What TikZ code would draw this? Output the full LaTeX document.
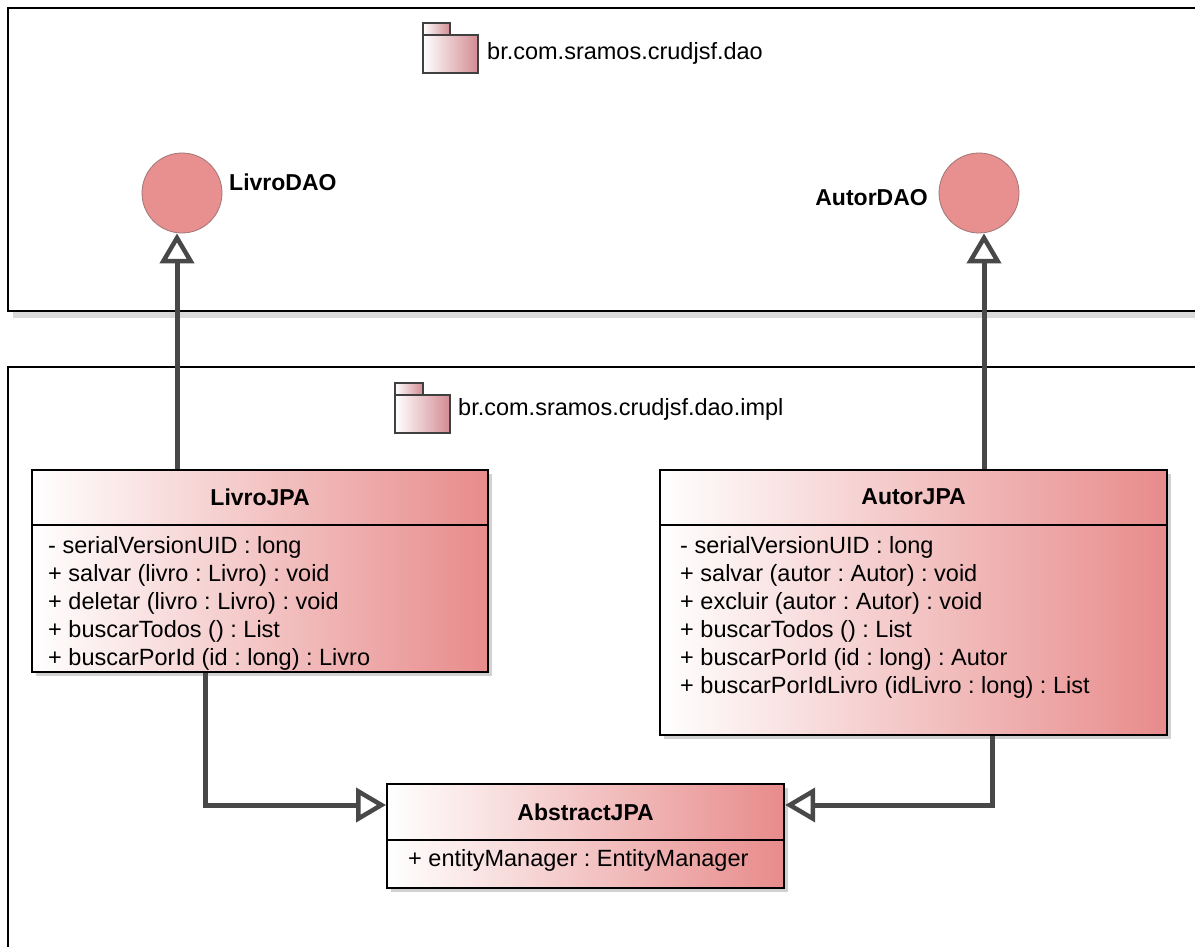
\documentclass[tikz,border=0pt]{standalone}
\usepackage{fontspec}
\setmainfont{Liberation Sans}
\usetikzlibrary{arrows.meta,shadows,calc}

\definecolor{umlred}{RGB}{232,139,139}
\definecolor{linkgray}{RGB}{72,72,72}
\definecolor{pkgpink}{RGB}{210,140,146}
\definecolor{ifacered}{RGB}{232,143,143}
\definecolor{ifaceedge}{RGB}{160,118,118}

\frenchspacing
\begin{document}
\begin{tikzpicture}[x=1pt,y=-1pt,
  txt/.style={font=\fontsize{23.5}{28}\selectfont, inner sep=0pt},
  member/.style={txt, anchor=base west},
  title/.style={txt, font=\fontsize{23}{28}\selectfont\bfseries, anchor=base},
  classbox/.style={draw=black, line width=2.2pt, shade, left color=white,
    right color=umlred, inner sep=0pt, anchor=north west,
    drop shadow={shadow xshift=4pt, shadow yshift=-4pt, fill=black!18, opacity=1}},
  iface/.style={circle, draw=ifaceedge, line width=0.8pt, fill=ifacered,
    minimum size=80pt, inner sep=0pt},
  gen/.style={draw=linkgray, line width=5pt,
    -{Triangle[open, length=30pt, width=34pt, line width=4.5pt]}},
  pkgframe/.style={draw=black, line width=2pt},
  pkgicon/.style={draw=black!75, line width=1.5pt, shade, left color=white,
    right color=pkgpink}
]
\clip (0,0) rectangle (1195,947);
\fill[white] (0,0) rectangle (1195,947);

% package frames
\fill[black!15] (13,312) rectangle (1210,318);
\draw[pkgframe] (1210,8) -- (8,8) -- (8,311) -- (1210,311);
\draw[pkgframe] (1210,367) -- (8,367) -- (8,960);

% package icons and names
\draw[pkgicon] (423,23) rectangle (450,35);
\draw[pkgicon] (423,35) rectangle (478,73);
\node[txt, anchor=base west] (pkgdao) at (487,60) {br.com.sramos.crudjsf.dao};
\draw[pkgicon] (395,383) rectangle (423,395);
\draw[pkgicon] (395,395) rectangle (450,433);
\node[txt, anchor=base west] (pkgimpl) at (458,415) {br.com.sramos.crudjsf.dao.impl};

% interfaces
\node[iface] (ldao) at (182,193) {};
\node[title, anchor=base west] (ldaolbl) at (229,190) {LivroDAO};
\node[iface] (adao) at (979,193) {};
\node[title, anchor=base east] (adaolbl) at (928,205) {AutorDAO};

% LivroJPA
\node[classbox, minimum width=456pt, minimum height=202pt] (ljpa) at (31,469) {};
\draw[line width=2pt] ($(ljpa.north west)+(0,56)$) -- ($(ljpa.north east)+(0,56)$);
\node[title] (ljpatitle) at ($(ljpa.north)+(0,36)$) {LivroJPA};
\foreach \t [count=\i] in {- serialVersionUID : long,
    + salvar (livro : Livro) : void,
    + deletar (livro : Livro) : void,
    + buscarTodos () : List,
    + buscarPorId (id : long) : Livro}
  \node[member] (ljpa-m\i) at ($(ljpa.north west)+(17,56+28*\i)$) {\t};

% AutorJPA
\node[classbox, minimum width=507pt, minimum height=265pt] (ajpa) at (659,469) {};
\draw[line width=2pt] ($(ajpa.north west)+(0,56)$) -- ($(ajpa.north east)+(0,56)$);
\node[title] (ajpatitle) at ($(ajpa.north)+(0,35)$) {AutorJPA};
\foreach \t [count=\i] in {- serialVersionUID : long,
    + salvar (autor : Autor) : void,
    + excluir (autor : Autor) : void,
    + buscarTodos () : List,
    + buscarPorId (id : long) : Autor,
    + buscarPorIdLivro (idLivro : long) : List}
  \node[member] (ajpa-m\i) at ($(ajpa.north west)+(21,56+28*\i)$) {\t};

% AbstractJPA
\node[classbox, minimum width=397pt, minimum height=104pt] (abs) at (386,783) {};
\draw[line width=2pt] ($(abs.north west)+(0,57)$) -- ($(abs.north east)+(0,57)$);
\node[title] (abstitle) at ($(abs.north)+(0,37)$) {AbstractJPA};
\node[member] (abs-m1) at ($(abs.north west)+(22,83)$) {+ entityManager : EntityManager};

% realizations and generalizations
\coordinate (lk) at (177,0);
\coordinate (rk) at (984,0);
\coordinate (lb) at (205,805);
\coordinate (rb) at (992,805);
\draw[gen] (ljpa.north -| lk) -- (ldao.south -| lk);
\draw[gen] (ajpa.north -| rk) -- (adao.south -| rk);
\draw[gen] (ljpa.south -| lb) |- (abs.west |- lb);
\draw[gen] (ajpa.south -| rb) |- (abs.east |- rb);
\end{tikzpicture}
\end{document}
